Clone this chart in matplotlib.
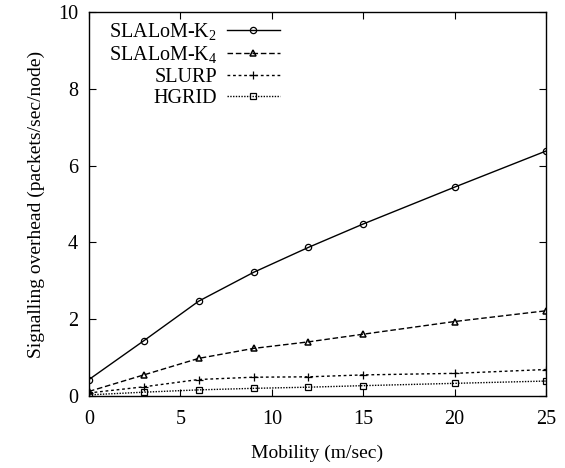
import matplotlib
matplotlib.use('Agg')
import matplotlib.pyplot as plt

# Overhead vs. node speed
mobility = [0, 3, 6, 9, 12, 15, 20, 25]
slalom_k2 = [0.43, 1.44, 2.47, 3.22, 3.87, 4.48, 5.44, 6.38]
slalom_k4 = [0.12, 0.55, 0.98, 1.24, 1.41, 1.61, 1.94, 2.22]
slurp = [0.08, 0.24, 0.43, 0.49, 0.50, 0.55, 0.59, 0.69]
hgrid = [0.03, 0.10, 0.16, 0.20, 0.23, 0.27, 0.33, 0.39]

x_ticks = [0, 5, 10, 15, 20, 25]
y_ticks = [0, 2, 4, 6, 8, 10]

plt.rcParams['font.family'] = ['Liberation Serif', 'DejaVu Serif']
plt.rcParams['mathtext.fontset'] = 'custom'
plt.rcParams['mathtext.rm'] = 'Liberation Serif'
plt.rcParams['mathtext.it'] = 'Liberation Serif'

fig = plt.figure(figsize=(5.65, 4.68), dpi=100)
ax = fig.add_axes([0.1575, 0.1538, 0.809, 0.8206])

ax.plot(mobility, slalom_k2, color='black', lw=1, ls='-', marker='o',
        ms=4.5, mfc='none', mew=0.9, label='SLALoM-K$_2$')
ax.plot(mobility, slalom_k4, color='black', lw=1, ls=(0, (4, 2)), marker='^',
        ms=4.5, mfc='none', mew=1.1, label='SLALoM-K$_4$')
ax.plot(mobility, slurp, color='black', lw=1, ls=(0, (2, 2)), marker='+',
        ms=6, mew=0.9, label='SLURP')
ax.plot(mobility, hgrid, color='black', lw=1, ls=(0, (1, 1)), marker='s',
        ms=4.2, mfc='none', mew=0.9, label='HGRID')

ax.set_xlim(0, 25)
ax.set_ylim(0, 10)
ax.set_xticks(x_ticks)
ax.set_yticks(y_ticks)
ax.tick_params(direction='in', top=True, right=True, length=5, width=0.8,
               labelsize=14.5)
ax.tick_params(axis='x', pad=10)
ax.tick_params(axis='y', pad=8)
for s in ax.spines.values():
    s.set_linewidth(1)

ax.set_xlabel('Mobility (m/sec)', fontsize=14, labelpad=11)
ax.set_ylabel('Signalling overhead (packets/sec/node)', fontsize=14, labelpad=9)

ax.legend(loc='upper left', bbox_to_anchor=(0.012, 1.012), frameon=False,
          markerfirst=False, fontsize=14.5, handlelength=2.6, handletextpad=0.5,
          labelspacing=0.1, borderaxespad=0.3)

fig.savefig('out.png', dpi=100)
